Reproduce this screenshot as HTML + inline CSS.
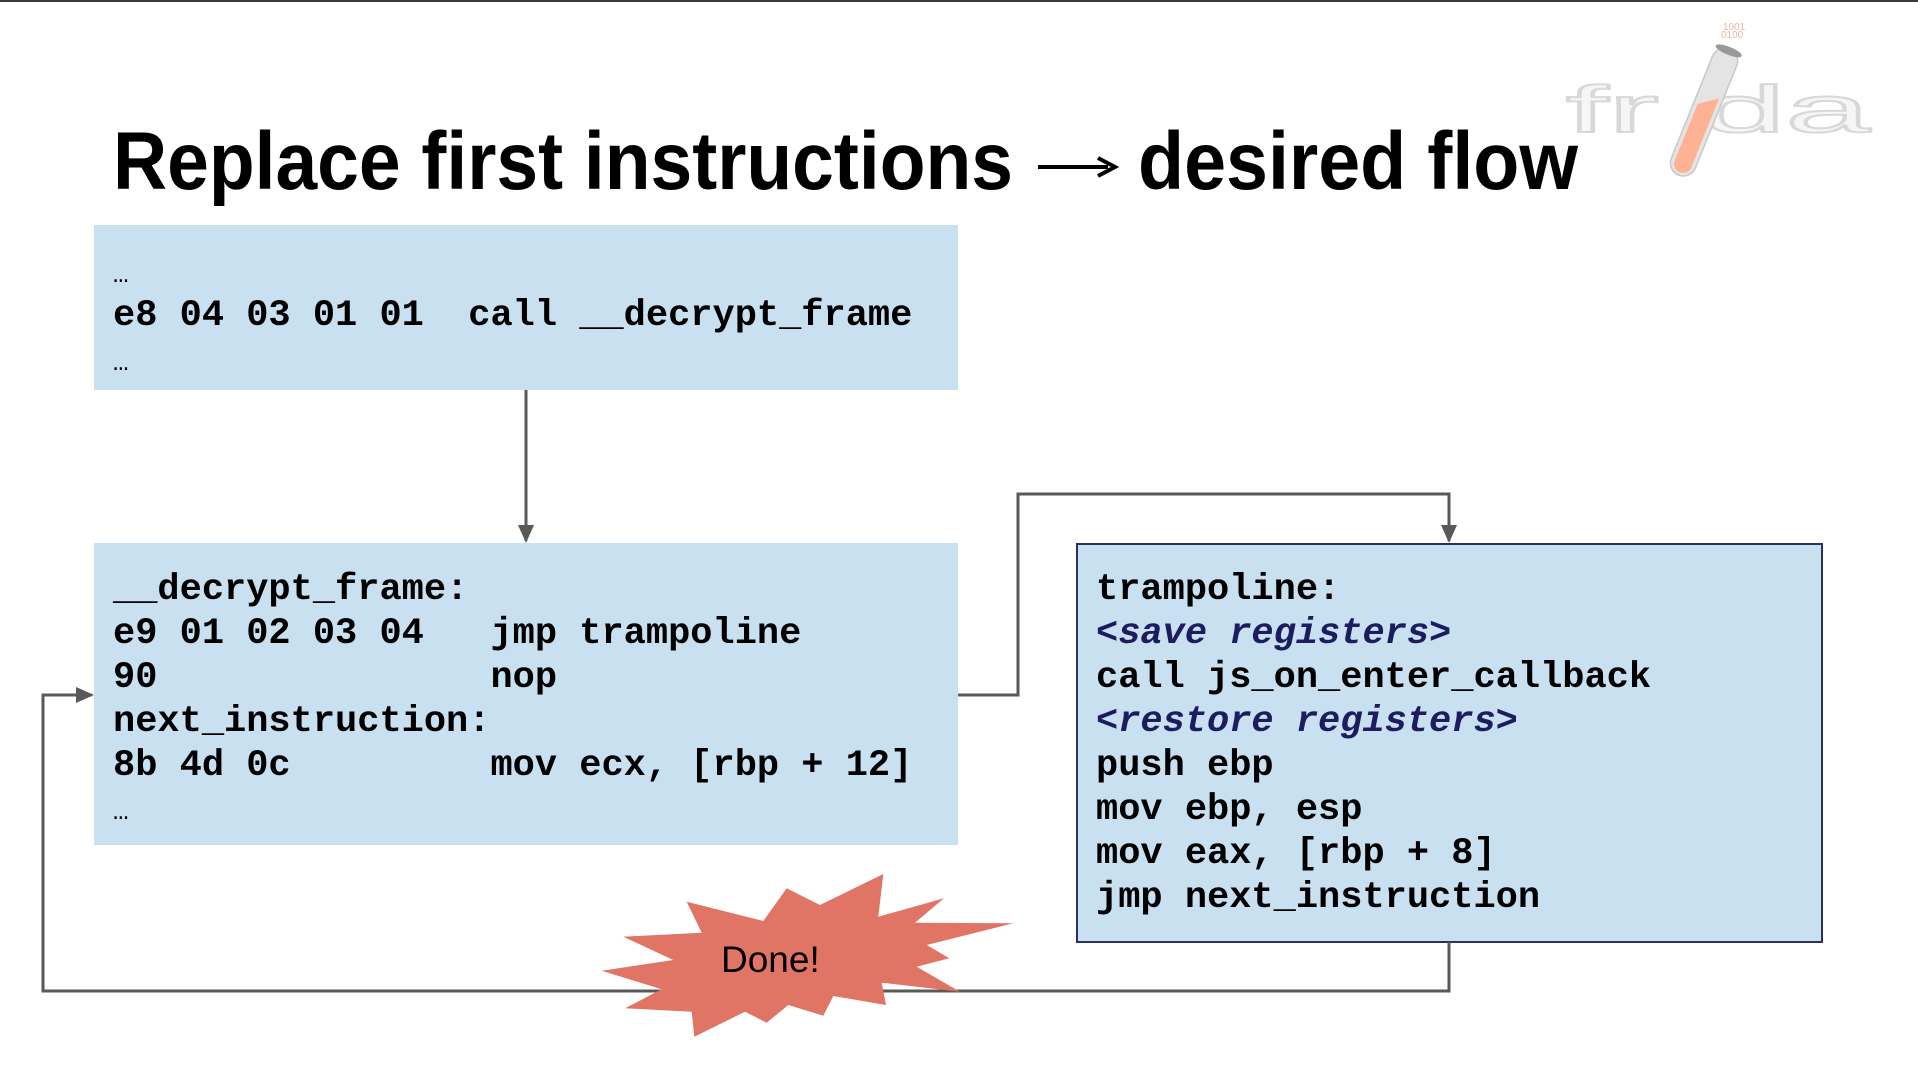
<!DOCTYPE html>
<html><head><meta charset="utf-8"><style>
html,body{margin:0;padding:0;background:#fff;}
svg{display:block;}
.m{font-family:"Liberation Mono",monospace;font-weight:bold;font-size:37px;fill:#000;white-space:pre;}
.i{font-style:italic;fill:#1c1c5e;}
</style></head><body>
<svg width="1918" height="1078" viewBox="0 0 1918 1078" xmlns="http://www.w3.org/2000/svg">
<defs>
<marker id="ah2" markerWidth="20" markerHeight="20" refX="16" refY="8" orient="auto" markerUnits="userSpaceOnUse"><path d="M0,0 L18,8 L0,16 z" fill="#595959"/></marker>
</defs>
<rect x="0" y="0" width="1918" height="2" fill="#3a3a3a"/>
<!-- logo -->
<text x="1566" y="132" font-family="Liberation Sans,sans-serif" font-size="66" fill="#f6f6f6" stroke="#d8d8d8" stroke-width="2" textLength="304" lengthAdjust="spacingAndGlyphs">fr da</text>
<text x="1723" y="30" font-family="Liberation Sans,sans-serif" font-size="10" fill="#e8b8a0">1001</text>
<text x="1721" y="38" font-family="Liberation Sans,sans-serif" font-size="10" fill="#e8b8a0">0100</text>
<g transform="translate(1704,112) rotate(22)">
<rect x="-13" y="-68" width="26" height="136" rx="13" fill="#e4e4e4" stroke="#c8c8c8" stroke-width="1.5"/>
<path d="M-9,-5 Q0,-12 9,-18 L9,56 A9,9 0 0 1 -9,56 Z" fill="#fdb393"/>
<ellipse cx="0" cy="-66" rx="14" ry="4" fill="#999"/>
</g>
<!-- title -->
<text x="113" y="189" font-family="Liberation Sans,sans-serif" font-weight="bold" font-size="82" fill="#000" textLength="900" lengthAdjust="spacingAndGlyphs">Replace first instructions</text>
<path d="M1038,167 L1108,167" stroke="#000" stroke-width="4"/>
<path d="M1098,158 L1115,167 L1098,176" fill="none" stroke="#000" stroke-width="4"/>
<text x="1138" y="189" font-family="Liberation Sans,sans-serif" font-weight="bold" font-size="82" fill="#000" textLength="440" lengthAdjust="spacingAndGlyphs">desired flow</text>
<!-- boxes -->
<rect x="94" y="225" width="864" height="165" fill="#c9e0f0"/>
<rect x="94" y="543" width="864" height="302" fill="#c9e0f0"/>
<rect x="1077" y="544" width="745" height="398" fill="#c9e0f0" stroke="#2a3060" stroke-width="2"/>
<!-- connectors -->
<line x1="526" y1="390" x2="526" y2="541" stroke="#595959" stroke-width="3" marker-end="url(#ah2)"/>
<polyline points="958,695 1018,695 1018,494 1449,494 1449,541" fill="none" stroke="#595959" stroke-width="3" marker-end="url(#ah2)"/>
<polyline points="1449,942 1449,991 43,991 43,695 92,695" fill="none" stroke="#595959" stroke-width="3" marker-end="url(#ah2)"/>
<!-- burst -->
<polygon fill="#e07465" points="686.7,901.7 701.7,932.7 623.3,936.7 673.3,960 601.7,970.7 661.7,989.3 625,1008.3 691.7,1011.7 694.3,1036.7 745,1011.7 766.7,1022.7 788.3,1005 823.3,1015.7 833.3,996 886,1005 881.7,982.7 960,991.7 916.7,966.7 949.3,958.3 926.7,945 1013.3,923.3 915,922.7 944,898.3 878.3,916.7 883.3,874 820,905 786.7,888.3 763.3,921"/>
<text x="721" y="972" font-family="Liberation Sans,sans-serif" font-size="37" fill="#000">Done!</text>
<!-- box1 text -->
<text class="m" x="113" y="282" style="font-weight:normal;font-size:26px">…</text>
<text class="m" x="113" y="325">e8 04 03 01 01  call __decrypt_frame</text>
<text class="m" x="113" y="370" style="font-weight:normal;font-size:26px">…</text>
<!-- box2 text -->
<text class="m" x="113" y="599">__decrypt_frame:</text>
<text class="m" x="113" y="643">e9 01 02 03 04   jmp trampoline</text>
<text class="m" x="113" y="687">90               nop</text>
<text class="m" x="113" y="731">next_instruction:</text>
<text class="m" x="113" y="775">8b 4d 0c         mov ecx, [rbp + 12]</text>
<text class="m" x="113" y="819" style="font-weight:normal;font-size:26px">…</text>
<!-- box3 text -->
<text class="m" x="1096" y="599">trampoline:</text>
<text class="m i" x="1096" y="643">&lt;save registers&gt;</text>
<text class="m" x="1096" y="687">call js_on_enter_callback</text>
<text class="m i" x="1096" y="731">&lt;restore registers&gt;</text>
<text class="m" x="1096" y="775">push ebp</text>
<text class="m" x="1096" y="819">mov ebp, esp</text>
<text class="m" x="1096" y="863">mov eax, [rbp + 8]</text>
<text class="m" x="1096" y="907">jmp next_instruction</text>
</svg>
</body></html>
